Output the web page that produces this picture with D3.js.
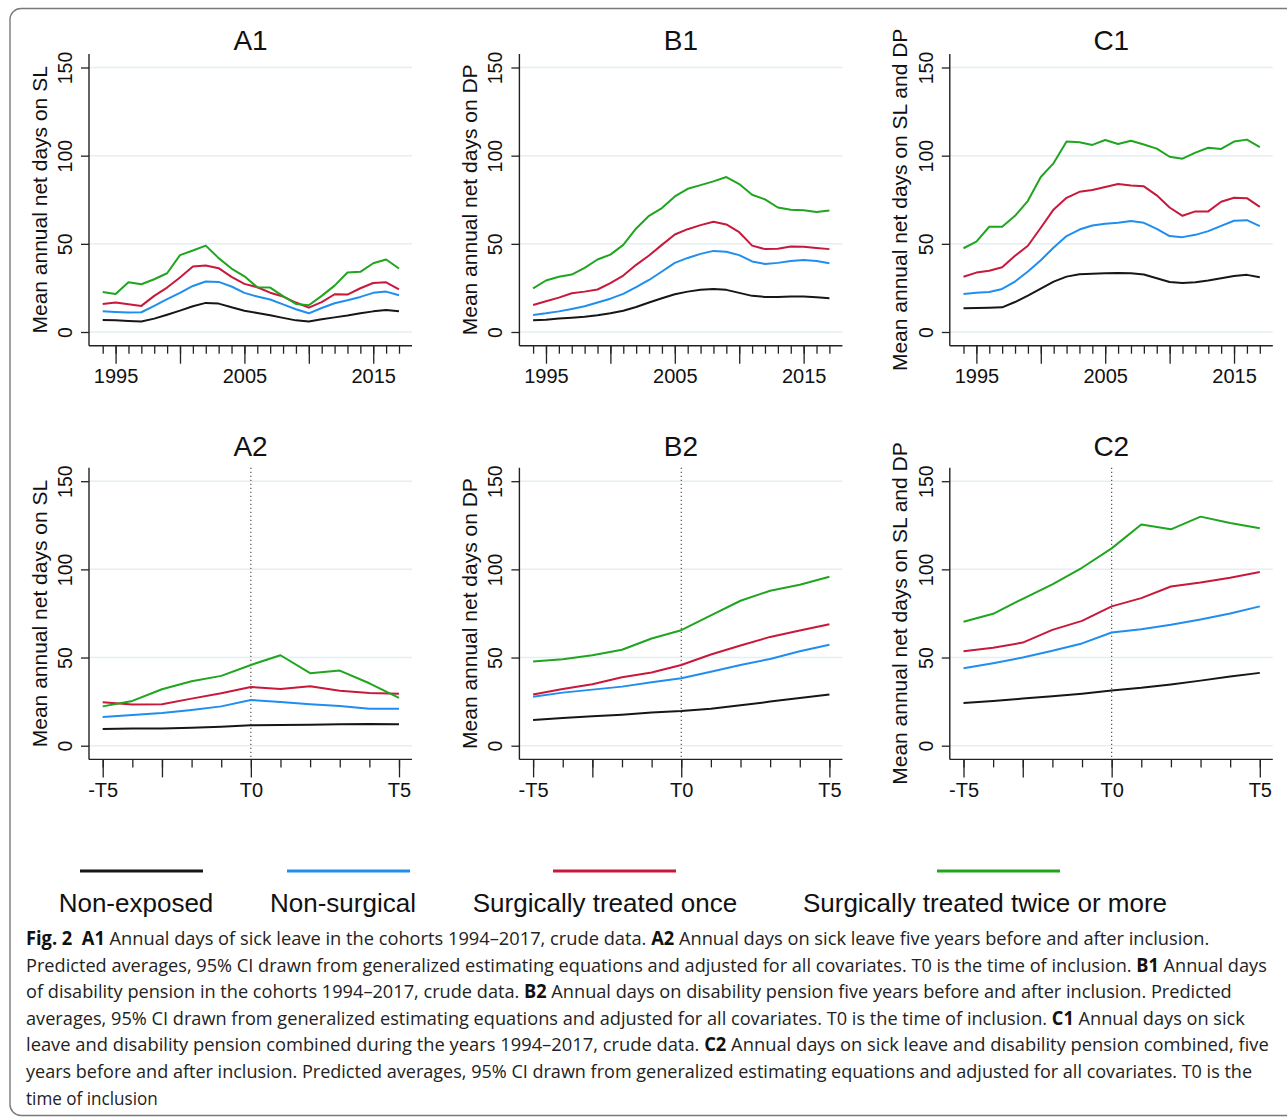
<!DOCTYPE html>
<html>
<head>
<meta charset="utf-8">
<script src="https://cdn.jsdelivr.net/npm/d3@7"></script>
<style>
  body { margin: 0; background: #fff; }
  svg { display: block; }
</style>
</head>
<body>
<svg id="fig" width="1287" height="1119"></svg>
<script>
// ---- data ----
var years = [1994, 1995, 1996, 1997, 1998, 1999, 2000, 2001, 2002, 2003, 2004, 2005,
             2006, 2007, 2008, 2009, 2010, 2011, 2012, 2013, 2014, 2015, 2016, 2017];
var yearMajors = [1995, 2000, 2005, 2010, 2015];
var yearLabels = [1995, 2005, 2015];
var relTimes = [-5, -4, -3, -2, -1, 0, 1, 2, 3, 4, 5];
var relMajors = [-5, -3, 0, 5];
var relLabels = { '-5': '-T5', '0': 'T0', '5': 'T5' };
var yTicks = [0, 50, 100, 150];

var groups = ['Non-exposed', 'Non-surgical', 'Surgically treated once', 'Surgically treated twice or more'];
var panelTitles = ['A1', 'B1', 'C1', 'A2', 'B2', 'C2'];
var yTitles = ['Mean annual net days on SL', 'Mean annual net days on DP', 'Mean annual net days on SL and DP',
               'Mean annual net days on SL', 'Mean annual net days on DP', 'Mean annual net days on SL and DP'];

// order inside each panel: non-exposed, non-surgical, once, twice or more
var a1 = [
  [6.8, 6.6, 6.3, 5.9, 7.6, 9.8, 12.1, 14.6, 16.5, 16.1, 14, 12.1, 10.8, 9.5, 8, 6.6, 5.9, 7.2, 8.3, 9.3, 10.6, 11.7, 12.5, 11.7],
  [11.7, 11.4, 11, 11.2, 14.8, 18.6, 22.2, 26.1, 28.6, 28.4, 25.8, 22.2, 20.1, 18.4, 15.7, 12.9, 10.6, 13.6, 16.3, 18, 19.9, 22.2, 22.9, 20.8],
  [15.9, 16.7, 15.7, 14.8, 20.5, 25.2, 30.9, 37.1, 37.7, 36.2, 31.3, 27.3, 25.4, 22.3, 20.1, 16.7, 13.8, 16.9, 21.4, 21.2, 24.8, 27.8, 28.2, 24.2],
  [22.7, 21.6, 28.2, 27.1, 29.9, 33.3, 43.6, 46.2, 49, 41.9, 36, 31.6, 25.4, 25.2, 20.3, 15.9, 15.2, 20.5, 26.3, 33.7, 34.1, 39, 41.1, 36]
];
var b1 = [
  [6.6, 7, 7.6, 8.1, 8.7, 9.5, 10.6, 12.1, 14.2, 16.7, 19.1, 21.4, 22.9, 23.9, 24.4, 23.9, 22.2, 20.5, 19.9, 19.9, 20.1, 20.1, 19.7, 19.1],
  [9.7, 10.6, 11.7, 13.1, 14.6, 16.7, 18.9, 21.6, 25.4, 29.5, 34.3, 39.2, 42, 44.3, 46, 45.5, 43.6, 40, 38.6, 39.2, 40.3, 40.9, 40.3, 39],
  [15.3, 17.4, 19.5, 22, 22.9, 24.1, 27.7, 32, 38.1, 43.4, 49.4, 55.3, 58.3, 60.6, 62.5, 61, 56.6, 49, 47, 47.2, 48.5, 48.3, 47.7, 47],
  [24.8, 29.2, 31.3, 32.6, 36.4, 41.1, 43.9, 49.4, 58.7, 65.9, 70.3, 76.9, 81.2, 83.3, 85.4, 87.9, 83.9, 77.8, 75.2, 70.6, 69.3, 69.1, 68, 68.9]
];
var c1 = [
  [13.4, 13.6, 13.8, 14, 17, 20.6, 24.6, 28.6, 31.4, 32.8, 33.1, 33.3, 33.5, 33.3, 32.6, 30.5, 28.4, 27.8, 28.2, 29.2, 30.5, 31.8, 32.4, 31.1],
  [21.6, 22.2, 22.7, 24.4, 28.6, 34.3, 40.7, 47.9, 54.4, 58.1, 60.4, 61.4, 61.9, 62.9, 61.9, 58.5, 54.4, 53.8, 55.1, 57.2, 60.2, 63.1, 63.4, 60],
  [31.3, 33.7, 34.7, 36.7, 43.2, 48.9, 59.1, 69.5, 76.1, 79.5, 80.5, 82.2, 83.9, 83.1, 82.6, 77.5, 70.6, 65.9, 68.4, 68.4, 73.9, 76.1, 75.9, 71],
  [47.5, 51.3, 59.7, 59.7, 65.9, 74.4, 87.9, 95.8, 108, 107.6, 106.1, 108.9, 106.6, 108.5, 106.3, 104, 99.4, 98.3, 101.7, 104.5, 103.8, 108, 109.1, 104.9]
];
var a2 = [
  [9.5, 9.7, 9.8, 10.2, 10.8, 11.6, 11.7, 11.9, 12.1, 12.3, 12.1],
  [16.3, 17.4, 18.6, 20.3, 22.3, 25.9, 24.8, 23.5, 22.5, 21, 21],
  [24.6, 23.3, 23.5, 26.7, 29.7, 33.3, 32.2, 33.7, 31.1, 29.9, 29.5],
  [22.3, 25.4, 32, 36.6, 39.6, 45.8, 51.3, 41.1, 42.6, 35.4, 27.1]
];
var b2 = [
  [14.6, 15.7, 16.7, 17.6, 18.8, 19.7, 21, 22.9, 25, 27.1, 29],
  [27.8, 30.1, 31.8, 33.5, 36, 38.3, 41.9, 45.8, 49.2, 53.6, 57.2],
  [29, 32.2, 34.8, 38.8, 41.5, 45.8, 51.7, 56.8, 61.7, 65.3, 68.9],
  [47.7, 49, 51.3, 54.4, 60.8, 65.5, 73.9, 82.2, 87.9, 91.3, 95.8]
];
var c2 = [
  [24.2, 25.4, 26.7, 28, 29.5, 31.3, 32.8, 34.7, 36.9, 39.2, 41.3],
  [43.9, 46.8, 50, 53.8, 58, 64.2, 66.1, 68.6, 71.6, 75, 79],
  [53.6, 55.5, 58.5, 65.7, 70.8, 79, 83.7, 90.3, 92.6, 95.3, 98.5],
  [70.3, 74.8, 83.3, 91.5, 100.9, 111.9, 125.4, 122.7, 129.9, 126.3, 123.3]
];

var captionLines = [
  [['b', 'Fig. 2'], ['n', '\u00a0 '], ['b', 'A1'], ['n', ' Annual days of sick leave in the cohorts 1994\u20132017, crude data. '], ['b', 'A2'], ['n', ' Annual days on sick leave five years before and after inclusion.']],
  [['n', 'Predicted averages, 95% CI drawn from generalized estimating equations and adjusted for all covariates. T0 is the time of inclusion. '], ['b', 'B1'], ['n', ' Annual days']],
  [['n', 'of disability pension in the cohorts 1994\u20132017, crude data. '], ['b', 'B2'], ['n', ' Annual days on disability pension five years before and after inclusion. Predicted']],
  [['n', 'averages, 95% CI drawn from generalized estimating equations and adjusted for all covariates. T0 is the time of inclusion. '], ['b', 'C1'], ['n', ' Annual days on sick']],
  [['n', 'leave and disability pension combined during the years 1994\u20132017, crude data. '], ['b', 'C2'], ['n', ' Annual days on sick leave and disability pension combined, five']],
  [['n', 'years before and after inclusion. Predicted averages, 95% CI drawn from generalized estimating equations and adjusted for all covariates. T0 is the']],
  [['n', 'time of inclusion']]
];
var captionWidths = [1184, 1241, 1207, 1220, 1244, 1227, null];

// ---- layout ----
var colors = ['#161616', '#1f8ef0', '#c8183c', '#1fa51f'];
var font = '"Liberation Sans", Arial, Helvetica, sans-serif';
var svg = d3.select('#fig');

svg.append('rect')
  .attr('x', 10).attr('y', 8.5)
  .attr('width', 1320).attr('height', 1107)
  .attr('rx', 11)
  .attr('fill', 'none')
  .attr('stroke', '#7a7a7a')
  .attr('stroke-width', 1.4);

var panelLeft = [89, 519.4, 949.8];
var rowZero = [332, 745.7];
var plotW = 323;

var panelData = [a1, b1, c1, a2, b2, c2];

panelData.forEach(function(series, i) {
  var col = i % 3;
  var row = Math.floor(i / 3);
  var left = panelLeft[col];
  var zero = rowZero[row];
  var top = zero - 278;
  var bottom = zero + 13.7;

  var xs = row === 0 ? years : relTimes;
  var x = d3.scaleLinear()
    .domain(row === 0 ? [1994, 2017] : [-5, 5])
    .range([left + 13.7, left + 310]);
  var y = d3.scaleLinear().domain([0, 150]).range([zero, zero - 264.5]);

  var g = svg.append('g');

  // grid
  g.selectAll('line.grid')
    .data(yTicks)
    .enter().append('line')
    .attr('class', 'grid')
    .attr('x1', left).attr('x2', left + plotW)
    .attr('y1', function(d) { return y(d); })
    .attr('y2', function(d) { return y(d); })
    .attr('stroke', '#e4eff3')
    .attr('stroke-width', 1.5);

  // dotted reference line at inclusion
  if (row === 1) {
    g.append('line')
      .attr('x1', x(0)).attr('x2', x(0))
      .attr('y1', top).attr('y2', bottom)
      .attr('stroke', '#555')
      .attr('stroke-width', 1.2)
      .attr('stroke-dasharray', '1.3,2.7');
  }

  // series
  var line = d3.line()
    .x(function(d, j) { return x(xs[j]); })
    .y(function(d) { return y(d); })
    .curve(d3.curveLinear);

  series.forEach(function(vals, k) {
    g.append('path')
      .datum(vals)
      .attr('d', line)
      .attr('fill', 'none')
      .attr('stroke', colors[k])
      .attr('stroke-width', 2)
      .attr('stroke-linejoin', 'round');
  });

  // y axis
  var yAxis = g.append('g')
    .attr('transform', 'translate(' + left + ',0)')
    .call(d3.axisLeft(y).tickValues(yTicks).tickSize(8).tickSizeOuter(0));
  yAxis.select('.domain').remove();
  yAxis.selectAll('.tick line').attr('stroke', '#222').attr('stroke-width', 1.3);
  yAxis.selectAll('.tick text')
    .attr('transform', 'rotate(-90)')
    .attr('x', 0).attr('y', -17).attr('dy', 0)
    .attr('text-anchor', 'middle')
    .attr('font-family', font)
    .attr('font-size', 19.5)
    .attr('fill', '#111');

  // x axis: minor then major ticks
  var minor = g.append('g')
    .attr('transform', 'translate(0,' + bottom + ')')
    .call(d3.axisBottom(x).tickValues(xs).tickSize(8).tickSizeOuter(0).tickFormat(''));
  minor.select('.domain').remove();
  minor.selectAll('.tick line').attr('stroke', '#222').attr('stroke-width', 1.3);

  var major = g.append('g')
    .attr('transform', 'translate(0,' + bottom + ')')
    .call(d3.axisBottom(x)
      .tickValues(row === 0 ? yearMajors : relMajors)
      .tickSize(18).tickSizeOuter(0).tickPadding(5.5)
      .tickFormat(function(d) {
        if (row === 0) return yearLabels.indexOf(d) >= 0 ? String(d) : '';
        return relLabels[String(d)] || '';
      }));
  major.select('.domain').remove();
  major.selectAll('.tick line').attr('stroke', '#222').attr('stroke-width', 1.3);
  major.selectAll('.tick text')
    .attr('font-family', font)
    .attr('font-size', 20)
    .attr('fill', '#111');

  // axis lines
  g.append('line')
    .attr('x1', left).attr('x2', left)
    .attr('y1', top).attr('y2', bottom)
    .attr('stroke', '#222').attr('stroke-width', 1.4);
  g.append('line')
    .attr('x1', left).attr('x2', left + plotW)
    .attr('y1', bottom).attr('y2', bottom)
    .attr('stroke', '#222').attr('stroke-width', 1.4);

  // y title
  g.append('text')
    .attr('transform', 'translate(' + (left - 42.5) + ',' + ((top + bottom) / 2) + ') rotate(-90)')
    .attr('text-anchor', 'middle')
    .attr('font-family', font)
    .attr('font-size', 21)
    .attr('fill', '#111')
    .text(yTitles[i]);

  // panel title
  g.append('text')
    .attr('x', left + plotW / 2)
    .attr('y', row === 0 ? 49.5 : 456)
    .attr('text-anchor', 'middle')
    .attr('font-family', font)
    .attr('font-size', 28)
    .attr('fill', '#111')
    .text(panelTitles[i]);
});

// legend
var legendKeyX = [80, 287, 553, 937];
var legendLabelX = [136, 343, 605, 985];
var legend = svg.append('g');
groups.forEach(function(name, k) {
  legend.append('line')
    .attr('x1', legendKeyX[k]).attr('x2', legendKeyX[k] + 123)
    .attr('y1', 871).attr('y2', 871)
    .attr('stroke', colors[k])
    .attr('stroke-width', 3);
  legend.append('text')
    .attr('x', legendLabelX[k])
    .attr('y', 912)
    .attr('text-anchor', 'middle')
    .attr('font-family', font)
    .attr('font-size', 26)
    .attr('fill', '#111')
    .text(name);
});

// caption: each line squeezed horizontally to the width it has in the figure
var caption = svg.append('g');
captionLines.forEach(function(parts, li) {
  var t = caption.append('text')
    .attr('x', 0)
    .attr('y', 0)
    .attr('font-family', '"Open Sans", "Noto Sans", sans-serif')
    .attr('font-size', 19)
    .attr('fill', '#222');
  parts.forEach(function(p) {
    t.append('tspan')
      .attr('font-weight', p[0] === 'b' ? 700 : 400)
      .attr('fill', p[0] === 'b' ? '#111' : '#222')
      .text(p[1]);
  });
  var natural = t.node().getComputedTextLength();
  var sx = captionWidths[li] ? captionWidths[li] / natural : 0.9;
  t.attr('transform', 'translate(26,' + (945 + li * 26.6) + ') scale(' + sx + ',1)');
});
</script>
</body>
</html>
